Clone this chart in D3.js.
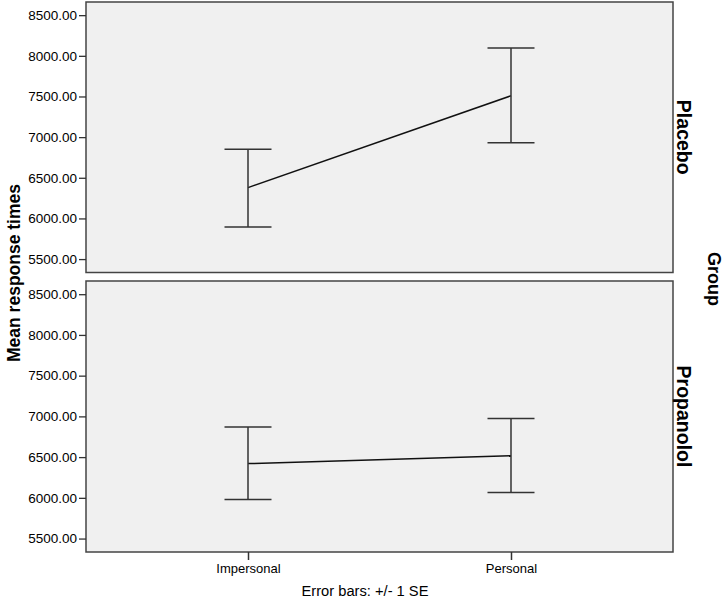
<!DOCTYPE html>
<html>
<head>
<meta charset="utf-8">
<script src="https://cdn.jsdelivr.net/npm/d3@7"></script>
<style>
  body { margin: 0; background: #fff; }
  text { font-family: "Liberation Sans", Arial, sans-serif; }
</style>
</head>
<body>
<svg id="chart" width="724" height="600"></svg>
<script>
// ---- Data ----
const categories = ["Impersonal", "Personal"];
const groups = ["Placebo", "Propanolol"];
const means = [[6379, 7509], [6420, 6518]];
const upper = [[6850, 8095], [6870, 6973]];
const lower = [[5896, 6931], [5978, 6064]];
const yTicks = [5500, 6000, 6500, 7000, 7500, 8000, 8500];
const yDomain = [5335, 8662];

const svg = d3.select("#chart");
const left = 86, right = 673;
const panels = [{top: 2, bottom: 272.5}, {top: 281, bottom: 552}];

const x = d3.scalePoint().domain(categories).range([left, right]).padding(0.616);

panels.forEach((p, gi) => {
  const y = d3.scaleLinear().domain(yDomain).range([p.bottom, p.top]);
  const g = svg.append("g");
  g.append("rect")
    .attr("x", left).attr("y", p.top)
    .attr("width", right - left).attr("height", p.bottom - p.top)
    .attr("fill", "#f0f0f0").attr("stroke", "#444").attr("stroke-width", 1.5);

  const ax = g.append("g").attr("transform", `translate(${left},0)`)
    .call(d3.axisLeft(y).tickValues(yTicks).tickFormat(d3.format(".2f")).tickSize(7).tickPadding(2));
  ax.select(".domain").remove();
  ax.selectAll(".tick line").attr("stroke", "#333").attr("stroke-width", 1.3);
  ax.selectAll(".tick text").attr("font-size", "13.5px").attr("fill", "#000")
    .style("font-family", "'Liberation Sans', Arial, sans-serif");

  // line
  const line = d3.line().x((d, i) => x(categories[i])).y(d => y(d));
  g.append("path").datum(means[gi]).attr("d", line)
    .attr("fill", "none").attr("stroke", "#111").attr("stroke-width", 1.5);

  // error bars
  categories.forEach((c, i) => {
    const cx = x(c);
    g.append("line").attr("x1", cx).attr("x2", cx)
      .attr("y1", y(upper[gi][i])).attr("y2", y(lower[gi][i]))
      .attr("stroke", "#333").attr("stroke-width", 1.5);
    [upper[gi][i], lower[gi][i]].forEach(v => {
      g.append("line").attr("x1", cx - 23.5).attr("x2", cx + 23.5)
        .attr("y1", y(v)).attr("y2", y(v))
        .attr("stroke", "#333").attr("stroke-width", 1.5);
    });
  });

  // facet label
  const cy = (p.top + p.bottom) / 2;
  g.append("text")
    .attr("transform", `translate(684,${cy}) rotate(90)`)
    .attr("text-anchor", "middle").attr("dominant-baseline", "central")
    .attr("font-size", "19.5px").attr("font-weight", "bold")
    .text(groups[gi]);
});

// x axis
const lastP = panels[1];
const xa = svg.append("g").attr("transform", `translate(0,${lastP.bottom})`)
  .call(d3.axisBottom(x).tickSize(8).tickPadding(4));
xa.select(".domain").remove();
xa.selectAll(".tick line").attr("stroke", "#333").attr("stroke-width", 1.5);
xa.selectAll(".tick text").attr("font-size", "13px").attr("fill", "#000")
  .style("font-family", "'Liberation Sans', Arial, sans-serif");

svg.append("text").attr("x", 365).attr("y", 596)
  .attr("text-anchor", "middle").attr("font-size", "14.7px")
  .text("Error bars: +/- 1 SE");

svg.append("text")
  .attr("transform", `translate(14,273) rotate(-90)`)
  .attr("text-anchor", "middle").attr("dominant-baseline", "central")
  .attr("font-size", "17.5px").attr("font-weight", "bold")
  .text("Mean response times");

svg.append("text")
  .attr("transform", `translate(714,279) rotate(90)`)
  .attr("text-anchor", "middle").attr("dominant-baseline", "central")
  .attr("font-size", "18px").attr("font-weight", "bold")
  .text("Group");
</script>
</body>
</html>
